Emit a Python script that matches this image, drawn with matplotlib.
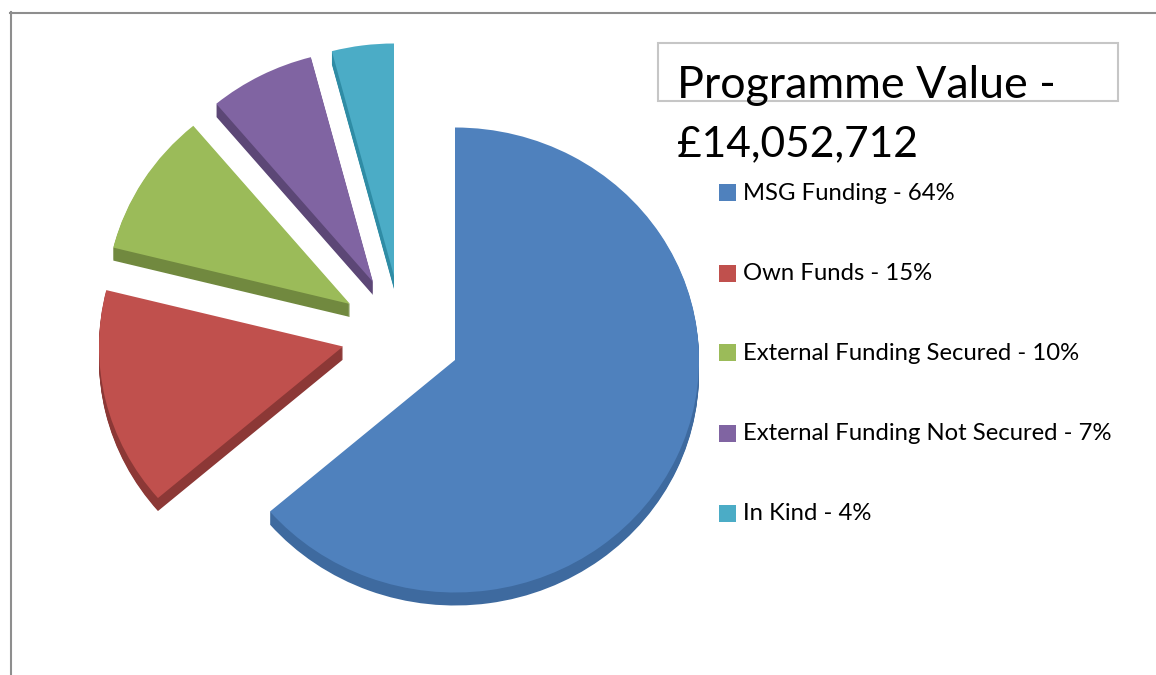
import matplotlib
matplotlib.use("Agg")
import matplotlib.pyplot as plt
from matplotlib.patches import Wedge, Rectangle
from matplotlib.transforms import Affine2D
from matplotlib.lines import Line2D

# Data
categories = ["MSG Funding", "Own Funds", "External Funding Secured",
              "External Funding Not Secured", "In Kind"]
shares = [63.7, 15.2, 10.0, 7.0, 4.1]
title_lines = ["Programme Value -", "£14,052,712"]

# Style / layout (pixel space, y measured from the top of the image)
W, H = 1156, 675
top_colors = ["#4F81BD", "#C0504D", "#9BBB59", "#8064A2", "#4BACC6"]
side_colors = ["#3E6A9F", "#8C3836", "#71893F", "#5C4776", "#2F8CA5"]
apexes = [(455, 360), (343, 346.5), (350, 304), (373, 282), (394, 276)]
RX, RY, DEPTH = 244, 232.5, 13
legend_y = [192, 273, 352, 433, 513]
title_sizes = [32.2, 30.6]

plt.rcParams["font.family"] = ["Lato", "DejaVu Sans"]
fig = plt.figure(figsize=(W / 100, H / 100), dpi=100)
ax = fig.add_axes([0, 0, 1, 1])
ax.set_xlim(0, W)
ax.set_ylim(0, H)
ax.axis("off")

def Y(y):
    return H - y

# Chart frame
ax.add_line(Line2D([10, W], [Y(12.5), Y(12.5)], color="#8E8E8E", lw=1.5))
ax.add_line(Line2D([10.5, 10.5], [Y(12), 0], color="#8E8E8E", lw=1.5))

# Exploded pie slices, clockwise from twelve o'clock
total = sum(shares)
start = 90.0
for share, top, side, (cx, cy) in zip(shares, top_colors, side_colors, apexes):
    sweep = 360.0 * share / total
    t1, t2 = start - sweep, start
    start = t1
    for d in list(range(DEPTH, 0, -1)) + [0]:
        tr = Affine2D().scale(RX, RY).translate(cx, Y(cy + d)) + ax.transData
        ax.add_patch(Wedge((0, 0), 1, t1, t2, transform=tr,
                           facecolor=side if d else top, edgecolor="none", zorder=2))

# Title box and overflowing title text
ax.add_patch(Rectangle((657.5, Y(100.5)), 460, 58, fill=False,
                       edgecolor="#C6C6C6", lw=1.5, zorder=3))
for line, base, size in zip(title_lines, [98, 156], title_sizes):
    ax.text(677, Y(base), line, fontsize=size, color="black", ha="left",
            va="baseline", zorder=4)

# Legend
for name, share, color, y in zip(categories, shares, top_colors, legend_y):
    ax.add_patch(Rectangle((719, Y(y + 8.5)), 17, 17, facecolor=color,
                           edgecolor="none", zorder=3))
    ax.text(743, Y(y + 7.5), f"{name} - {round(share)}%", fontsize=17.2, color="black",
            ha="left", va="baseline", zorder=4)

fig.savefig("out.png", dpi=100, facecolor="white")
